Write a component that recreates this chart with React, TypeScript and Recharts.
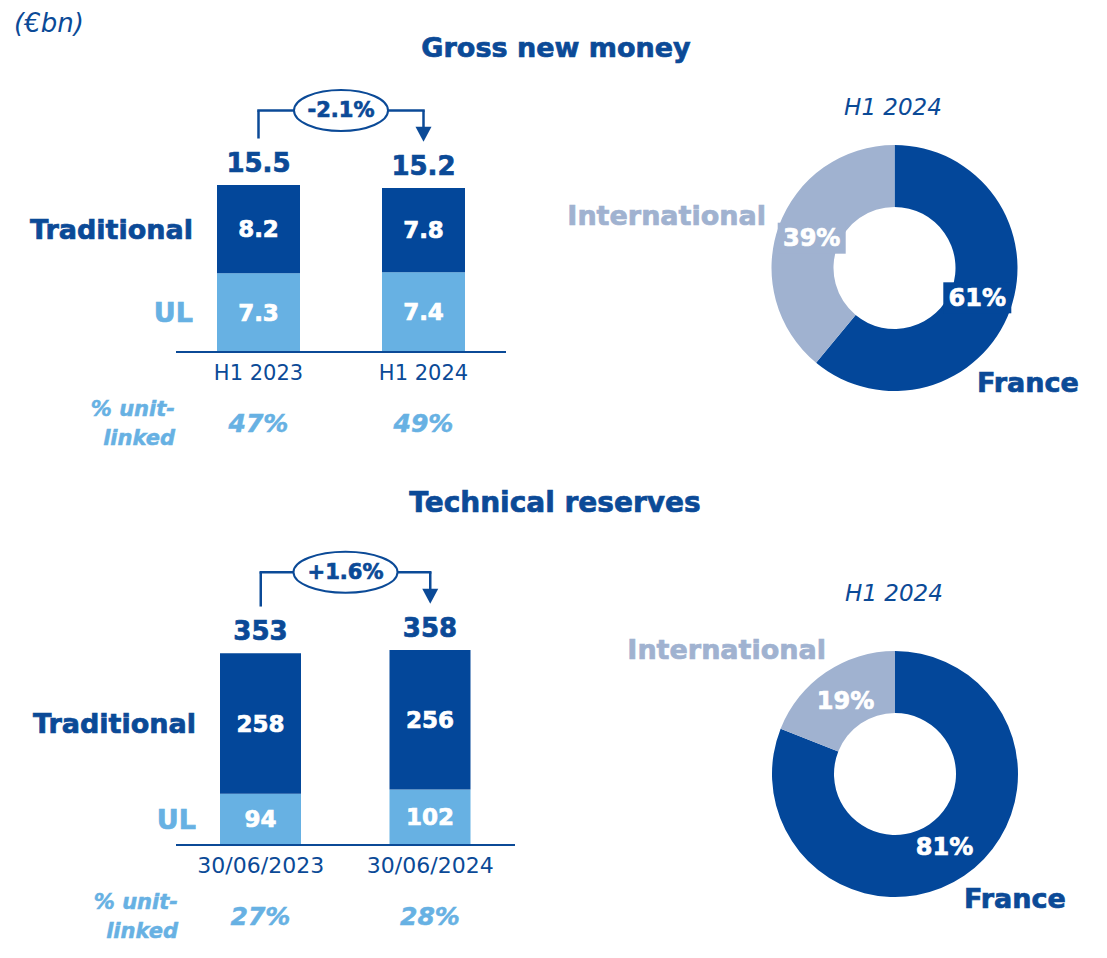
import React from 'react';
import { BarChart, Bar, XAxis, YAxis, LabelList, ReferenceLine, PieChart, Pie, Cell } from 'recharts';

// palette
const DARK = '#03479A';
const LIGHT = '#67B1E3';
const GREY = '#A0B2D0';
const INK = '#0B4A97';
const FONT = '"DejaVu Sans", sans-serif';

// Gross new money (€bn)
const grossPeriods = ['H1 2023', 'H1 2024'];
const grossTraditional = [8.2, 7.8];
const grossUL = [7.3, 7.4];
const grossTotals = [15.5, 15.2];
const grossULShare = ['47%', '49%'];
const grossChange = '-2.1%';

// Technical reserves (€bn)
const reserveDates = ['30/06/2023', '30/06/2024'];
const reserveTraditional = [258, 256];
const reserveUL = [94, 102];
const reserveTotals = [353, 358];
const reserveULShare = ['27%', '28%'];
const reserveChange = '+1.6%';

// split H1 2024 (%)
const splitNames = ['France', 'International'];
const splitColors = [DARK, GREY];
const grossSplit = [61, 39];
const reserveSplit = [81, 19];

const buildRows = (cats: string[], trad: number[], ul: number[], totals: number[], share: string[]) =>
  cats.map((name, i) => ({ name, traditional: trad[i], ul: ul[i], total: totals[i], share: share[i] }));

const boxOf = (p: any) => {
  const v = p.viewBox && p.viewBox.width != null ? p.viewBox : p;
  return { x: Number(v.x), y: Number(v.y), w: Number(v.width), h: Number(v.height) };
};

// bold text a little heavier, closer to the original typeface
const heavy = (color: string) => ({ fill: color, stroke: color, strokeWidth: 0.7, fontWeight: 'bold' as const, fontFamily: FONT });

const segValue = (p: any) => {
  const b = boxOf(p);
  return (
    <text x={b.x + b.w / 2} y={b.y + b.h / 2} textAnchor="middle" dominantBaseline="central"
      fontSize={23} {...heavy('#fff')}>{p.value}</text>
  );
};

const totalValue = (p: any) => {
  const b = boxOf(p);
  return (
    <text x={b.x + b.w / 2} y={b.y - 13} textAnchor="middle" fontSize={26} {...heavy(INK)}>{p.value}</text>
  );
};

const seriesName = (label: string, color: string) => (p: any) => {
  if (p.index !== 0) return null;
  const b = boxOf(p);
  return (
    <text x={b.x - 24} y={b.y + b.h / 2} textAnchor="end" dominantBaseline="central"
      fontSize={27} {...heavy(color)}>{label}</text>
  );
};

const shareValue = (p: any) => {
  const b = boxOf(p);
  const base = b.y + b.h;
  return (
    <g fontStyle="italic" {...heavy(LIGHT)} strokeWidth={0.5}>
      <text x={b.x + b.w / 2} y={base + 80} textAnchor="middle" fontSize={25}>{p.value}</text>
      {p.index === 0 && (
        <text x={b.x - 42} textAnchor="end" fontSize={21}>
          <tspan x={b.x - 42} y={base + 64}>% unit-</tspan>
          <tspan x={b.x - 42} y={base + 93}>linked</tspan>
        </text>
      )}
    </g>
  );
};

const badge = (text: string, rx: number) => (p: any) => {
  const v = p.viewBox;
  if (!v) return null;
  const cx = v.x + v.width / 2;
  const cy = v.y;
  return (
    <g>
      <ellipse cx={cx} cy={cy} rx={rx} ry={20.5} fill="#fff" stroke={INK} strokeWidth={2} />
      <text x={cx} y={cy} textAnchor="middle" dominantBaseline="central"
        fontSize={21} {...heavy(INK)}>{text}</text>
    </g>
  );
};

const arrowLeg = (p: any) => {
  const top = Math.min(p.y1, p.y2);
  const tip = Math.max(p.y1, p.y2);
  const x = p.x1;
  return (
    <g>
      <line x1={x} x2={x} y1={top} y2={tip - 12} stroke={INK} strokeWidth={2.5} />
      <polygon points={`${x - 8},${tip - 15} ${x + 8},${tip - 15} ${x},${tip}`} fill={INK} />
    </g>
  );
};

type StackProps = {
  rows: ReturnType<typeof buildRows>;
  top: number;
  width: number;
  height: number;
  margin: { top: number; right: number; bottom: number; left: number };
  yMax: number;
  barSize: number;
  tickSize: number;
  change: string;
  badgeRx: number;
  legGap: number;
  rise: number;
};

const StackPanel = ({ rows, top, width, height, margin, yMax, barSize, tickSize, change, badgeRx, legGap, rise }: StackProps) => {
  const level = rows[0].total + rise;
  const c0 = rows[0].name;
  const c1 = rows[1].name;
  return (
    <div style={{ position: 'absolute', left: 0, top }}>
      <BarChart width={width} height={height} data={rows} margin={margin} barSize={barSize}>
        <XAxis dataKey="name" height={30} tickLine={false} axisLine={{ stroke: INK, strokeWidth: 2 }}
          tick={(t: any) => (
            <text x={t.x} y={t.y + 20} textAnchor="middle" fill={INK} fontSize={tickSize} fontFamily={FONT}>
              {t.payload.value}
            </text>
          )} />
        <YAxis hide type="number" domain={[0, yMax]} />
        <Bar dataKey="ul" stackId="s" fill={LIGHT} isAnimationActive={false}>
          <LabelList dataKey="ul" content={segValue} />
          <LabelList dataKey="ul" content={seriesName('UL', LIGHT)} />
          <LabelList dataKey="share" content={shareValue} />
        </Bar>
        <Bar dataKey="traditional" stackId="s" fill={DARK} isAnimationActive={false}>
          <LabelList dataKey="traditional" content={segValue} />
          <LabelList dataKey="traditional" content={seriesName('Traditional', INK)} />
          <LabelList dataKey="total" content={totalValue} />
        </Bar>
        <ReferenceLine segment={[{ x: c0, y: level }, { x: c0, y: rows[0].total + legGap }]}
          stroke={INK} strokeWidth={2.5} />
        <ReferenceLine segment={[{ x: c1, y: level }, { x: c1, y: rows[1].total + legGap }]}
          shape={arrowLeg} />
        <ReferenceLine segment={[{ x: c0, y: level }, { x: c1, y: level }]}
          stroke={INK} strokeWidth={2.5} strokeLinecap="square" label={badge(change, badgeRx)} />
      </BarChart>
    </div>
  );
};

const pctLabel = (withBox: boolean) => (p: any) => {
  const RAD = Math.PI / 180;
  const r = (p.innerRadius + p.outerRadius) / 2 - 4;
  const x = p.cx + r * Math.cos(-p.midAngle * RAD);
  const y = p.cy + r * Math.sin(-p.midAngle * RAD);
  return (
    <g>
      {withBox && <rect x={x - 34} y={y - 15.5} width={68} height={31} fill={splitColors[p.index]} />}
      <text x={x} y={y} textAnchor="middle" dominantBaseline="central"
        fontSize={24} {...heavy('#fff')}>{`${p.value}%`}</text>
    </g>
  );
};

const DonutPanel = ({ values, left, top, cx, cy, withBox }: { values: number[]; left: number; top: number; cx: number; cy: number; withBox: boolean }) => {
  const rows = splitNames.map((name, i) => ({ name, value: values[i] }));
  return (
    <div style={{ position: 'absolute', left, top }}>
      <PieChart width={480} height={290} margin={{ top: 0, right: 0, bottom: 0, left: 0 }}>
        <Pie data={rows} dataKey="value" cx={cx} cy={cy} innerRadius={61} outerRadius={123}
          startAngle={90} endAngle={-270} stroke="none" labelLine={false}
          label={pctLabel(withBox)} isAnimationActive={false}>
          {rows.map((r, i) => <Cell key={r.name} fill={splitColors[i]} />)}
        </Pie>
      </PieChart>
    </div>
  );
};

const grossRows = buildRows(grossPeriods, grossTraditional, grossUL, grossTotals, grossULShare);
const reserveRows = buildRows(reserveDates, reserveTraditional, reserveUL, reserveTotals, reserveULShare);

export default function App() {
  return (
    <div style={{ position: 'absolute', left: 0, top: 0, width: 1107, height: 958, background: '#fff', fontFamily: FONT }}>
      <StackPanel rows={grossRows} top={0} width={540} height={470}
        margin={{ top: 90, right: 34, bottom: 88, left: 176 }} yMax={24.3} barSize={83} tickSize={21}
        change={grossChange} badgeRx={47} legGap={4.3} rise={6.9} />
      <StackPanel rows={reserveRows} top={470} width={540} height={488}
        margin={{ top: 81, right: 25, bottom: 83, left: 176 }} yMax={540} barSize={81} tickSize={22}
        change={reserveChange} badgeRx={52} legGap={85} rise={148} />
      <DonutPanel values={grossSplit} left={620} top={130} cx={274.5} cy={138} withBox />
      <DonutPanel values={reserveSplit} left={620} top={640} cx={275} cy={134} withBox={false} />
      <svg width={1107} height={958} style={{ position: 'absolute', left: 0, top: 0, pointerEvents: 'none' }}
        fontFamily={FONT}>
        <text x={14} y={32} fontSize={26} fontStyle="italic" fill={INK}>(€bn)</text>
        <text x={556} y={57} textAnchor="middle" fontSize={27} {...heavy(INK)}>Gross new money</text>
        <text x={555} y={512} textAnchor="middle" fontSize={28} {...heavy(INK)}>Technical reserves</text>
        <text x={893} y={115} textAnchor="middle" fontSize={23} fontStyle="italic" fill={INK}>H1 2024</text>
        <text x={894} y={601} textAnchor="middle" fontSize={23} fontStyle="italic" fill={INK}>H1 2024</text>
        <text x={766} y={225} textAnchor="end" fontSize={27} {...heavy(GREY)}>{splitNames[1]}</text>
        <text x={977} y={392} fontSize={27} {...heavy(INK)}>{splitNames[0]}</text>
        <text x={826} y={659} textAnchor="end" fontSize={27} {...heavy(GREY)}>{splitNames[1]}</text>
        <text x={964} y={908} fontSize={27} {...heavy(INK)}>{splitNames[0]}</text>
      </svg>
    </div>
  );
}
